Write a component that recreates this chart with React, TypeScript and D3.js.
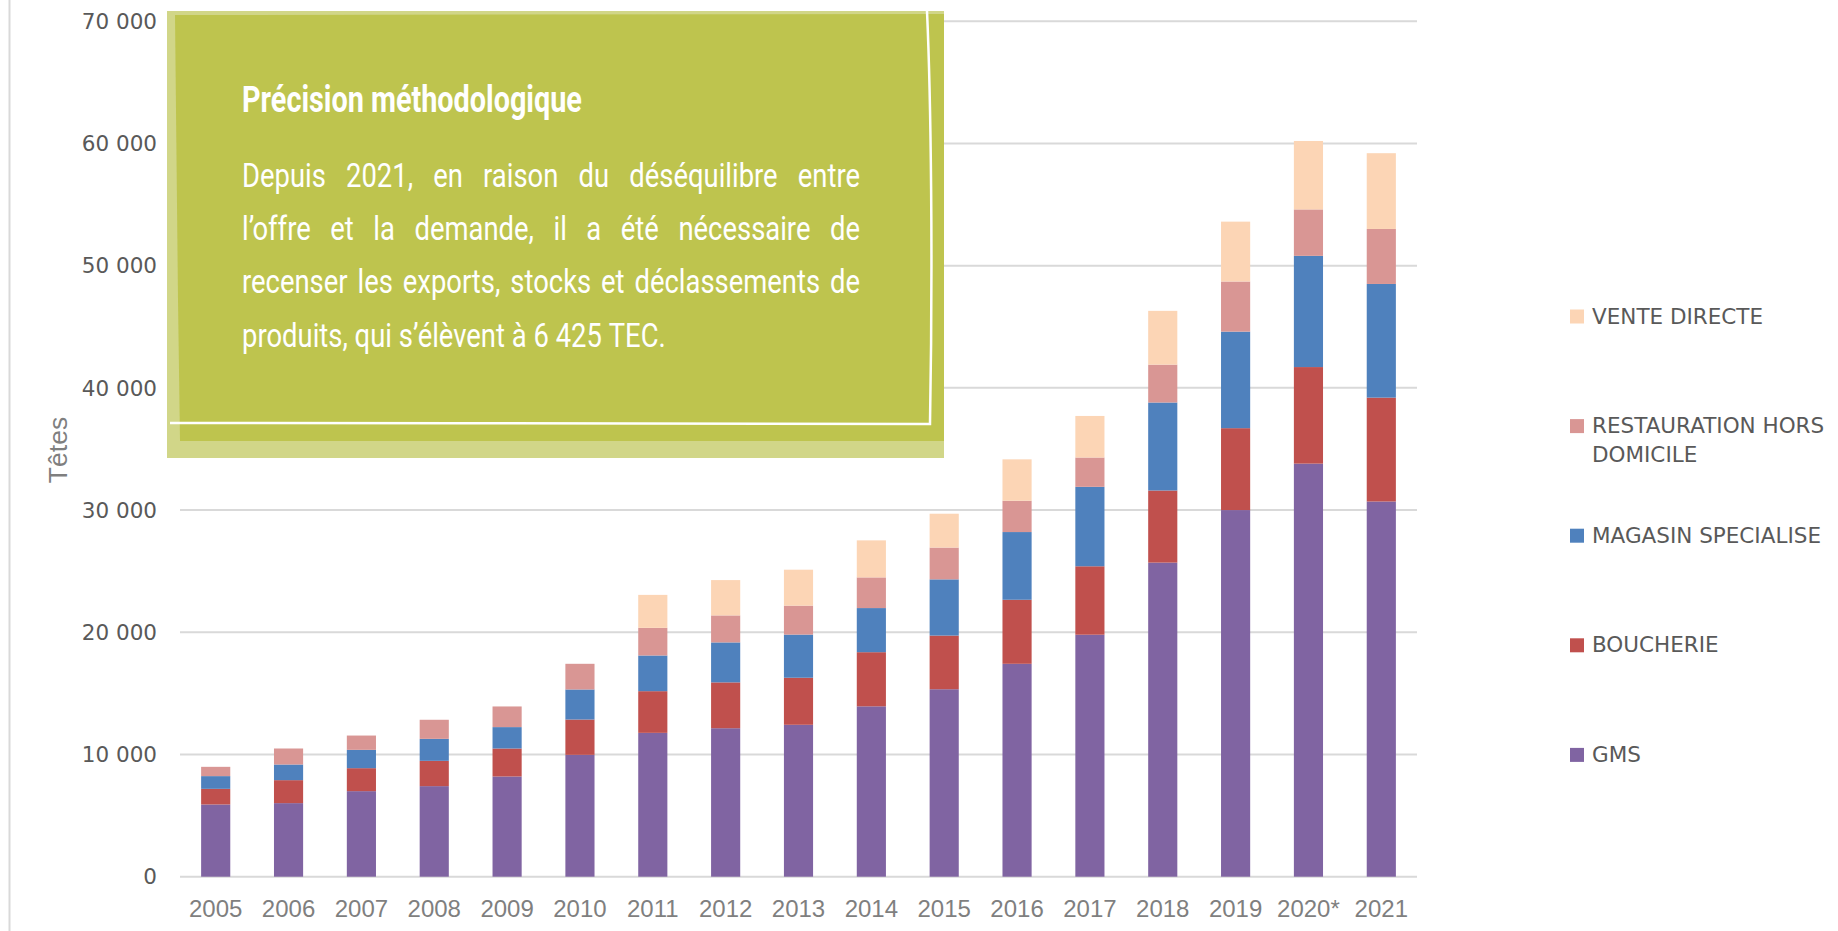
import React, { useMemo } from 'react';
import * as d3 from 'd3';

// données (têtes)
const years = ['2005', '2006', '2007', '2008', '2009', '2010', '2011', '2012', '2013', '2014', '2015', '2016', '2017', '2018', '2019', '2020*', '2021'];
const gms = [5910, 6020, 7000, 7410, 8200, 9970, 11770, 12150, 12430, 13940, 15340, 17420, 19800, 25700, 30000, 33800, 30700];
const boucherie = [1280, 1880, 1880, 2070, 2290, 2890, 3410, 3750, 3850, 4430, 4390, 5240, 5600, 5900, 6700, 7900, 8500];
const magasin = [1040, 1280, 1500, 1800, 1750, 2460, 2920, 3270, 3530, 3610, 4600, 5540, 6500, 7200, 7900, 9100, 9300];
const restauration = [760, 1310, 1170, 1560, 1690, 2100, 2260, 2210, 2370, 2510, 2600, 2560, 2400, 3100, 4100, 3800, 4500];
const venteDirecte = [0, 0, 0, 0, 0, 0, 2700, 2890, 2940, 3030, 2770, 3390, 3400, 4400, 4900, 5600, 6200];

const seriesKeys = ['gms', 'boucherie', 'magasin', 'restauration', 'vente'];
const seriesColors = ['#8064A2', '#C0504D', '#4F81BD', '#D99694', '#FCD5B5'];
// légende, de haut en bas
const legendOrder = [4, 3, 2, 1, 0];
const legendLabels = [['GMS'], ['BOUCHERIE'], ['MAGASIN SPECIALISE'], ['RESTAURATION HORS', 'DOMICILE'], ['VENTE DIRECTE']];
const yTicks = [0, 10000, 20000, 30000, 40000, 50000, 60000, 70000];

const noteTitle = 'Précision méthodologique';
const noteLines = [
  'Depuis 2021, en raison du déséquilibre entre',
  'l’offre et la demande, il a été nécessaire de',
  'recenser les exports, stocks et déclassements de',
  'produits, qui s’élèvent à 6 425 TEC.',
];

const W = 1838;
const H = 931;

const frFormat = d3.formatLocale({ decimal: ',', thousands: ' ', grouping: [3], currency: ['', ' €'] }).format(',');

let ctx: CanvasRenderingContext2D | null = null;
const measure = (text: string, font: string) => {
  if (!ctx) ctx = document.createElement('canvas').getContext('2d');
  ctx!.font = font;
  return ctx!.measureText(text).width;
};

export default function App() {
  const x = d3.scaleBand().domain(years).range([180, 1417]).paddingInner(0.6).paddingOuter(0.29);
  const y = d3.scaleLinear().domain([0, 70000]).range([876.7, 21.2]);

  const table = years.map((yr, i) => ({
    year: yr,
    gms: gms[i],
    boucherie: boucherie[i],
    magasin: magasin[i],
    restauration: restauration[i],
    vente: venteDirecte[i],
  }));
  const stacked = d3.stack<any>().keys(seriesKeys)(table);

  // texte de l'encadré : police condensée simulée + justification
  const note = useMemo(() => {
    const titleFont = 'bold 37px Roboto';
    const bodyFont = '33.5px Roboto';
    const titleScale = 340 / measure(noteTitle, titleFont);
    const left = 242;
    const boxW = 618;
    let s = 443 / measure(noteLines[3], bodyFont);
    s = Math.min(s, (boxW / measure(noteLines[2], bodyFont)) * 0.97);
    const lines = noteLines.map((line, li) => {
      const words = line.split(' ');
      const widths = words.map((w) => measure(w, bodyFont) * s);
      const space = measure(' ', bodyFont) * s;
      const total = d3.sum(widths);
      const gap = li < noteLines.length - 1 ? (boxW - total) / (words.length - 1) : space;
      let cx = left;
      return words.map((w, wi) => {
        const pos = cx;
        cx += widths[wi] + gap;
        return { w, x: pos };
      });
    });
    return { titleScale, s, lines };
  }, []);

  const baselines = [186.7, 240, 293.3, 346.7];

  return (
    <svg width={W} height={H} style={{ position: 'absolute', left: 0, top: 0, background: '#fff' }}>
      <rect x={0} y={0} width={W} height={H} fill="#fff" />
      <line x1={9.5} x2={9.5} y1={0} y2={H} stroke="#d9d9d9" strokeWidth={2} />

      {/* grille */}
      {yTicks.map((t) => (
        <g key={t}>
          <line x1={180} x2={1417} y1={y(t)} y2={y(t)} stroke="#d9d9d9" strokeWidth={2} />
          <text
            x={157}
            y={y(t)}
            dy="0.36em"
            textAnchor="end"
            fontFamily="DejaVu Sans"
            fontSize={21.5}
            fill="#595959"
          >
            {frFormat(t)}
          </text>
        </g>
      ))}

      {/* barres empilées */}
      {stacked.map((layer, si) => (
        <g key={layer.key} fill={seriesColors[si]}>
          {layer.map((d: any, i: number) =>
            d[1] - d[0] > 0 ? (
              <rect
                key={i}
                x={x(d.data.year)}
                width={x.bandwidth()}
                y={y(d[1])}
                height={y(d[0]) - y(d[1])}
              />
            ) : null
          )}
        </g>
      ))}

      {/* axe x */}
      {years.map((yr) => (
        <text
          key={yr}
          x={(x(yr) as number) + x.bandwidth() / 2}
          y={916.5}
          textAnchor="middle"
          fontFamily="Liberation Sans"
          fontSize={24}
          fill="#7f7f7f"
        >
          {yr}
        </text>
      ))}

      <text
        transform="translate(66.7,450) rotate(-90)"
        textAnchor="middle"
        fontFamily="Liberation Sans"
        fontSize={26.5}
        fill="#7f7f7f"
      >
        Têtes
      </text>

      {/* légende */}
      {legendOrder.map((si, k) => {
        const b = 323.5 + k * 109.6;
        return (
          <g key={si}>
            <rect x={1570} y={b - 14} width={14} height={14} fill={seriesColors[si]} />
            {legendLabels[si].map((ln, li) => (
              <text
                key={li}
                x={1592}
                y={b + li * 28.7}
                fontFamily="DejaVu Sans"
                fontSize={21.5}
                fill="#595959"
              >
                {ln}
              </text>
            ))}
          </g>
        );
      })}

      {/* encadré méthodologique */}
      <g>
        <rect x={167} y={11} width={777} height={447} fill="#D1D688" />
        <path d="M175,15 L944,14 L944,441 L180,441 L178,300 Z" fill="#BEC44E" />
        <path
          d="M927,11 C931,100 933,260 930,424 C700,425 420,422 170,423"
          fill="none"
          stroke="#fff"
          strokeWidth={2.5}
        />
        <text
          transform={`translate(242,111.7) scale(${note.titleScale},1)`}
          fontFamily="Roboto"
          fontWeight="bold"
          fontSize={37}
          fill="#fff"
        >
          {noteTitle}
        </text>
        {note.lines.map((words, li) =>
          words.map((w, wi) => (
            <text
              key={`${li}-${wi}`}
              transform={`translate(${w.x},${baselines[li]}) scale(${note.s},1)`}
              fontFamily="Roboto"
              fontSize={33.5}
              fill="#fff"
            >
              {w.w}
            </text>
          ))
        )}
      </g>
    </svg>
  );
}
